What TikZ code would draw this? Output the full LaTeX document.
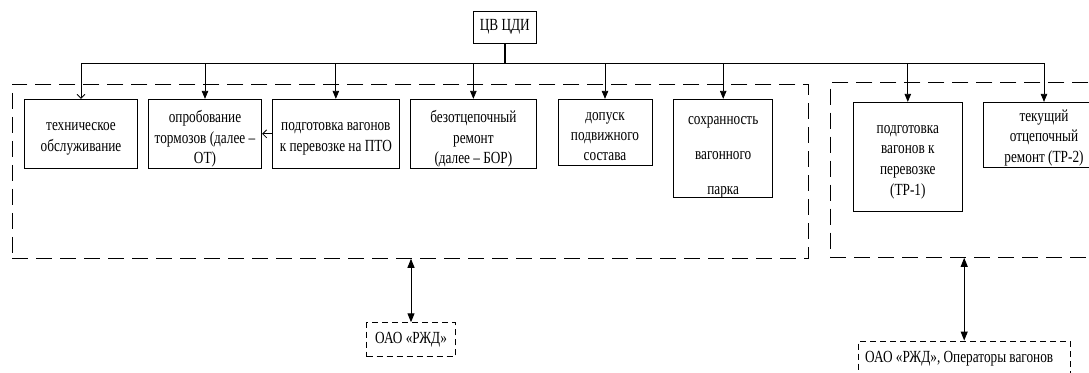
\documentclass[tikz,border=0pt]{standalone}
\usepackage{fontspec}
\setmainfont{Liberation Serif}
\newfontfamily\condfont[FakeStretch=0.78]{Liberation Serif}
\usetikzlibrary{arrows.meta}
\tikzset{
  txt/.style={font={\condfont\fontsize{17}{20.7}\selectfont}, align=center, inner sep=0pt},
  box/.style={draw, line width=0.9pt, inner sep=0pt},
  bigdash/.style={draw, line width=1pt, dash pattern=on 16pt off 8pt, inner sep=0pt},
  smalldash/.style={draw, line width=0.9pt, dash pattern=on 6pt off 4pt, inner sep=0pt},
  fa/.style={-{Triangle[length=8pt,width=6.5pt]}, line width=0.8pt},
  oa/.style={-{Straight Barb[length=4pt,width=8pt]}, line width=0.8pt},
  da/.style={{Triangle[length=9pt,width=7pt]}-{Triangle[length=9pt,width=7pt]}, line width=1pt},
  busline/.style={line width=1.6pt}
}
\begin{document}
\begin{tikzpicture}[x=1pt,y=-1pt]
\useasboundingbox (0,0) rectangle (1089,372);
\clip (0,0) rectangle (1089,372);
% groups
\node[bigdash, minimum width=796.4pt, minimum height=174.3pt] (grpL) at (410.5,171.15) {};
\node[bigdash, minimum width=269.7pt, minimum height=174.6pt] (grpR) at (965.15,170) {};
% top
\node[box, txt, minimum width=63.7pt, minimum height=32.3pt] (top) at (504.85,27.15) {ЦВ ЦДИ};
% boxes
\node[box, minimum width=113.4pt, minimum height=69pt] (b1) at (81,133.8) {};
\node[box, minimum width=113.4pt, minimum height=69pt] (b2) at (205,133.8) {};
\node[box, minimum width=126.3pt, minimum height=69pt] (b3) at (335.85,133.8) {};
\node[box, minimum width=126.7pt, minimum height=69pt] (b4) at (473.35,133.8) {};
\node[box, minimum width=94pt, minimum height=65.7pt] (b5) at (605,132.15) {};
\node[box, minimum width=99pt, minimum height=98pt] (b6) at (723.2,148.3) {};
\node[box, minimum width=109pt, minimum height=109.4pt] (b7) at (907.8,157) {};
\node[box, minimum width=121.4pt, minimum height=65pt] (b8) at (1044,134.8) {};
% box texts
\node[txt] (t1) at ([yshift=-5pt]b1.center) {техническое\\обслуживание};
\node[txt] (t2) at ([yshift=-5pt]b2.center) {опробование\\тормозов (далее –\\ОТ)};
\node[txt] (t3) at ([yshift=-5pt]b3.center) {подготовка вагонов\\к перевозке на ПТО};
\node[txt] (t4) at ([yshift=-5pt]b4.center) {безотцепочный\\ремонт\\(далее – БОР)};
\node[txt] (t5) at ([yshift=-4pt]b5.center) {допуск\\[-0.7pt]подвижного\\[-0.7pt]состава};
\node[txt] (t6) at ([yshift=-9pt]b6.center) {сохранность\\[14pt]вагонного\\[14pt]парка};
\node[txt] (t7) at ([yshift=-5pt]b7.center) {подготовка\\вагонов к\\перевозке\\(ТР-1)};
\node[txt] (t8) at ([yshift=-3pt]b8.center) {текущий\\отцепочный\\ремонт (ТР-2)};
% bottom boxes
\node[smalldash, txt, minimum width=88.6pt, minimum height=34pt] (rzd) at (411,339.7) {ОАО «РЖД»};
\node[smalldash, minimum width=211.7pt, minimum height=34pt] (ops) at (964.2,358) {};
\node[txt, anchor=west] (opst) at (865,359) {ОАО «РЖД», Операторы вагонов};
% bus
\coordinate (bus) at (0,63.3);
\draw[busline] (top.south) -- (top.south |- bus);
\draw[busline] (b1.north |- bus) -- (b8.north |- bus);
\draw[oa] (b1.north |- bus) -- (b1.north);
\foreach \b in {b2,b3,b4,b5,b6,b7,b8}{
  \draw[fa] (\b.north |- bus) -- (\b.north);
}
\draw[oa] (b3.west) -- (b2.east);
% bottom arrows
\draw[da] (rzd.north |- grpL.south) -- (rzd.north);
\draw[da] (ops.north |- grpR.south) -- (ops.north);
\end{tikzpicture}
\end{document}
